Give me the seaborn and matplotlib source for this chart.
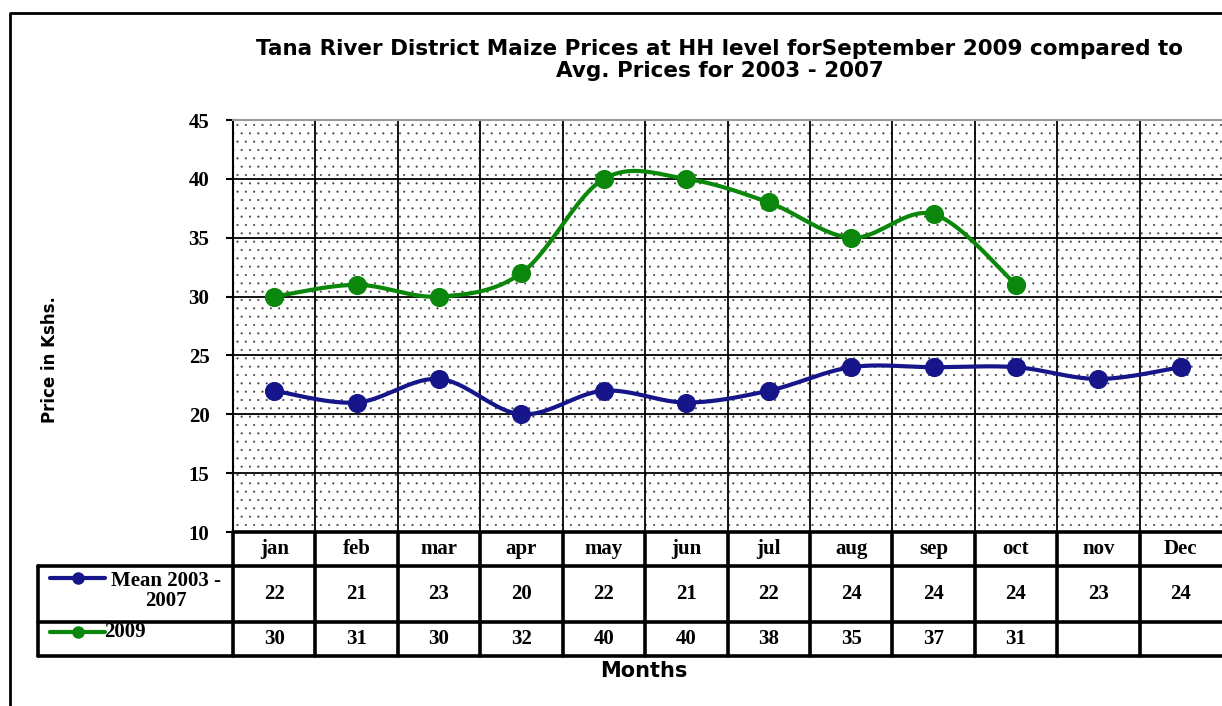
import numpy as np
import pandas as pd
import matplotlib
matplotlib.use("Agg")
import matplotlib.pyplot as plt
import seaborn as sns
from matplotlib.lines import Line2D
from matplotlib.patches import Rectangle
from matplotlib.transforms import blended_transform_factory

months = ["jan", "feb", "mar", "apr", "may", "jun", "jul", "aug", "sep", "oct", "nov", "Dec"]
mean_0307 = [22, 21, 23, 20, 22, 21, 22, 24, 24, 24, 23, 24]
prices_2009 = [30, 31, 30, 32, 40, 40, 38, 35, 37, 31, None, None]
series_labels = ["Mean 2003 -\n2007", "2009"]
series_colors = ["#16168a", "#0b870b"]
y_ticks = [10, 15, 20, 25, 30, 35, 40, 45]

W, H = 1222, 706
SANS = "DejaVu Sans"
SERIF = "Liberation Serif"


def px(x, y):
    # pixel position in the reference -> figure fraction
    return x / W, 1 - y / H


def smooth(xs, ys, n=24):
    # catmull-rom through the points, like excel's "smoothed line"
    xs = np.asarray(xs, float)
    ys = np.asarray(ys, float)
    px_ = np.concatenate([[xs[0]], xs, [xs[-1]]])
    py_ = np.concatenate([[ys[0]], ys, [ys[-1]]])
    t = np.linspace(0, 1, n)
    out_x, out_y = [], []
    for i in range(1, len(px_) - 2):
        for p, out in ((px_, out_x), (py_, out_y)):
            p0, p1, p2, p3 = p[i - 1], p[i], p[i + 1], p[i + 2]
            out.extend(0.5 * (2 * p1 + (-p0 + p2) * t
                              + (2 * p0 - 5 * p1 + 4 * p2 - p3) * t ** 2
                              + (-p0 + 3 * p1 - 3 * p2 + p3) * t ** 3))
    return np.array(out_x), np.array(out_y)


sns.set_style("white")
plt.rcParams["hatch.linewidth"] = 0.3
plt.rcParams["text.color"] = "black"
plt.rcParams["ytick.color"] = "black"
plt.rcParams["ytick.labelcolor"] = "black"

fig = plt.figure(figsize=(W / 100, H / 100), dpi=100)
ax = fig.add_axes([233 / W, 1 - 532 / H, 1 - 233 / W, 412 / H])
ax.set_xlim(-0.5, 11.5)
ax.set_ylim(10, 45)

# dotted plot area
ax.add_patch(Rectangle((0, 0), 1, 1, transform=ax.transAxes, facecolor="none",
                       edgecolor="#444444", linewidth=0, hatch="..", zorder=0.5))

# grid
ax.set_yticks(y_ticks)
ax.set_yticklabels([str(v) for v in y_ticks], fontfamily=SERIF,
                   fontweight="bold", fontsize=15)
ax.set_xticks([])
ax.set_xticks(np.arange(0.5, 11.5, 1), minor=True)
ax.grid(True, axis="y", which="major", color="black", lw=1.3, zorder=1)
ax.grid(True, axis="x", which="minor", color="black", lw=1.3, zorder=1)
ax.tick_params(axis="x", which="both", length=0, labelbottom=False)
ax.tick_params(axis="y", length=5, width=1.5, direction="out", pad=12, left=True)
for side in ["right", "bottom"]:
    ax.spines[side].set_visible(False)
ax.spines["top"].set_color("#999999")
ax.spines["top"].set_linewidth(1.5)
ax.spines["left"].set_color("black")
ax.spines["left"].set_linewidth(1.5)

# series
df = pd.DataFrame({"month": months, "idx": range(12),
                   "Mean 2003 - 2007": mean_0307, "2009": prices_2009})
for col, color in zip(["Mean 2003 - 2007", "2009"], series_colors):
    d = df[["idx", col]].dropna()
    sx, sy = smooth(d["idx"], d[col])
    ax.plot(sx, sy, color=color, lw=3, zorder=3, solid_capstyle="round")
    sns.scatterplot(data=d, x="idx", y=col, color=color, s=190, edgecolor=color,
                    linewidth=0, zorder=4, ax=ax, legend=False)
ax.set_xlabel("")
ax.set_ylabel("")

# data table under the chart
tr = blended_transform_factory(ax.transData, ax.transAxes)
unit = (W - 233) / 12
x_leg = -0.5 - (233 - 38) / unit
rows = [0, -34 / 412, -90 / 412, -124 / 412]
lw_tab = 2.6
ax.add_line(Line2D([-0.5, 11.6], [rows[0], rows[0]], transform=tr, color="black",
                   lw=lw_tab, clip_on=False, zorder=5))
for r in rows[1:]:
    ax.add_line(Line2D([x_leg, 11.6], [r, r], transform=tr, color="black",
                       lw=lw_tab, clip_on=False, zorder=5))
ax.add_line(Line2D([x_leg, x_leg], [rows[1], rows[3]], transform=tr, color="black",
                   lw=lw_tab, clip_on=False, zorder=5))
for xv in np.arange(-0.5, 11.5, 1):
    ax.add_line(Line2D([xv, xv], [rows[0], rows[3]], transform=tr, color="black",
                       lw=lw_tab, clip_on=False, zorder=5))

txt = dict(transform=tr, ha="center", va="center", family=SERIF,
           fontweight="bold", fontsize=15)
for i, m in enumerate(months):
    ax.text(i, (rows[0] + rows[1]) / 2, m, **txt)
    ax.text(i, (rows[1] + rows[2]) / 2, str(mean_0307[i]), **txt)
    if prices_2009[i] is not None:
        ax.text(i, (rows[2] + rows[3]) / 2, str(prices_2009[i]), **txt)

# legend keys inside the table
for (ly, ty), color, label, ha, tx in [((578, 591), series_colors[0], series_labels[0], "center", 166),
                                       ((632, 632), series_colors[1], series_labels[1], "left", 104)]:
    x0, y0 = px(50, ly)
    x1, _ = px(105, ly)
    fig.add_artist(Line2D([x0, x1], [y0, y0], color=color, lw=3))
    fig.add_artist(Line2D([(x0 + x1) / 2], [y0], color=color, marker="o", ms=8, lw=0))
    fig.text(*px(tx, ty), label, ha=ha, va="center", family=SERIF,
             fontweight="bold", fontsize=15, linespacing=1.05)

# titles and labels
fig.text(*px(720, 60), "Tana River District Maize Prices at HH level forSeptember 2009 compared to\n"
         "Avg. Prices for 2003 - 2007", ha="center", va="center", family=SANS,
         fontweight="bold", fontsize=15.5, linespacing=1.1)
fig.text(*px(50, 360), "Price in Kshs.", rotation=90, ha="center", va="center",
         family=SANS, fontweight="bold", fontsize=12)
fig.text(*px(644, 671), "Months", ha="center", va="center", family=SANS,
         fontweight="bold", fontsize=15)

# outer frame (only top and left visible in the crop)
fig.add_artist(Line2D([10 / W, 10 / W, 1.01], [0, 1 - 13 / H, 1 - 13 / H],
                      color="black", lw=2))

fig.savefig("out.png", dpi=100)
